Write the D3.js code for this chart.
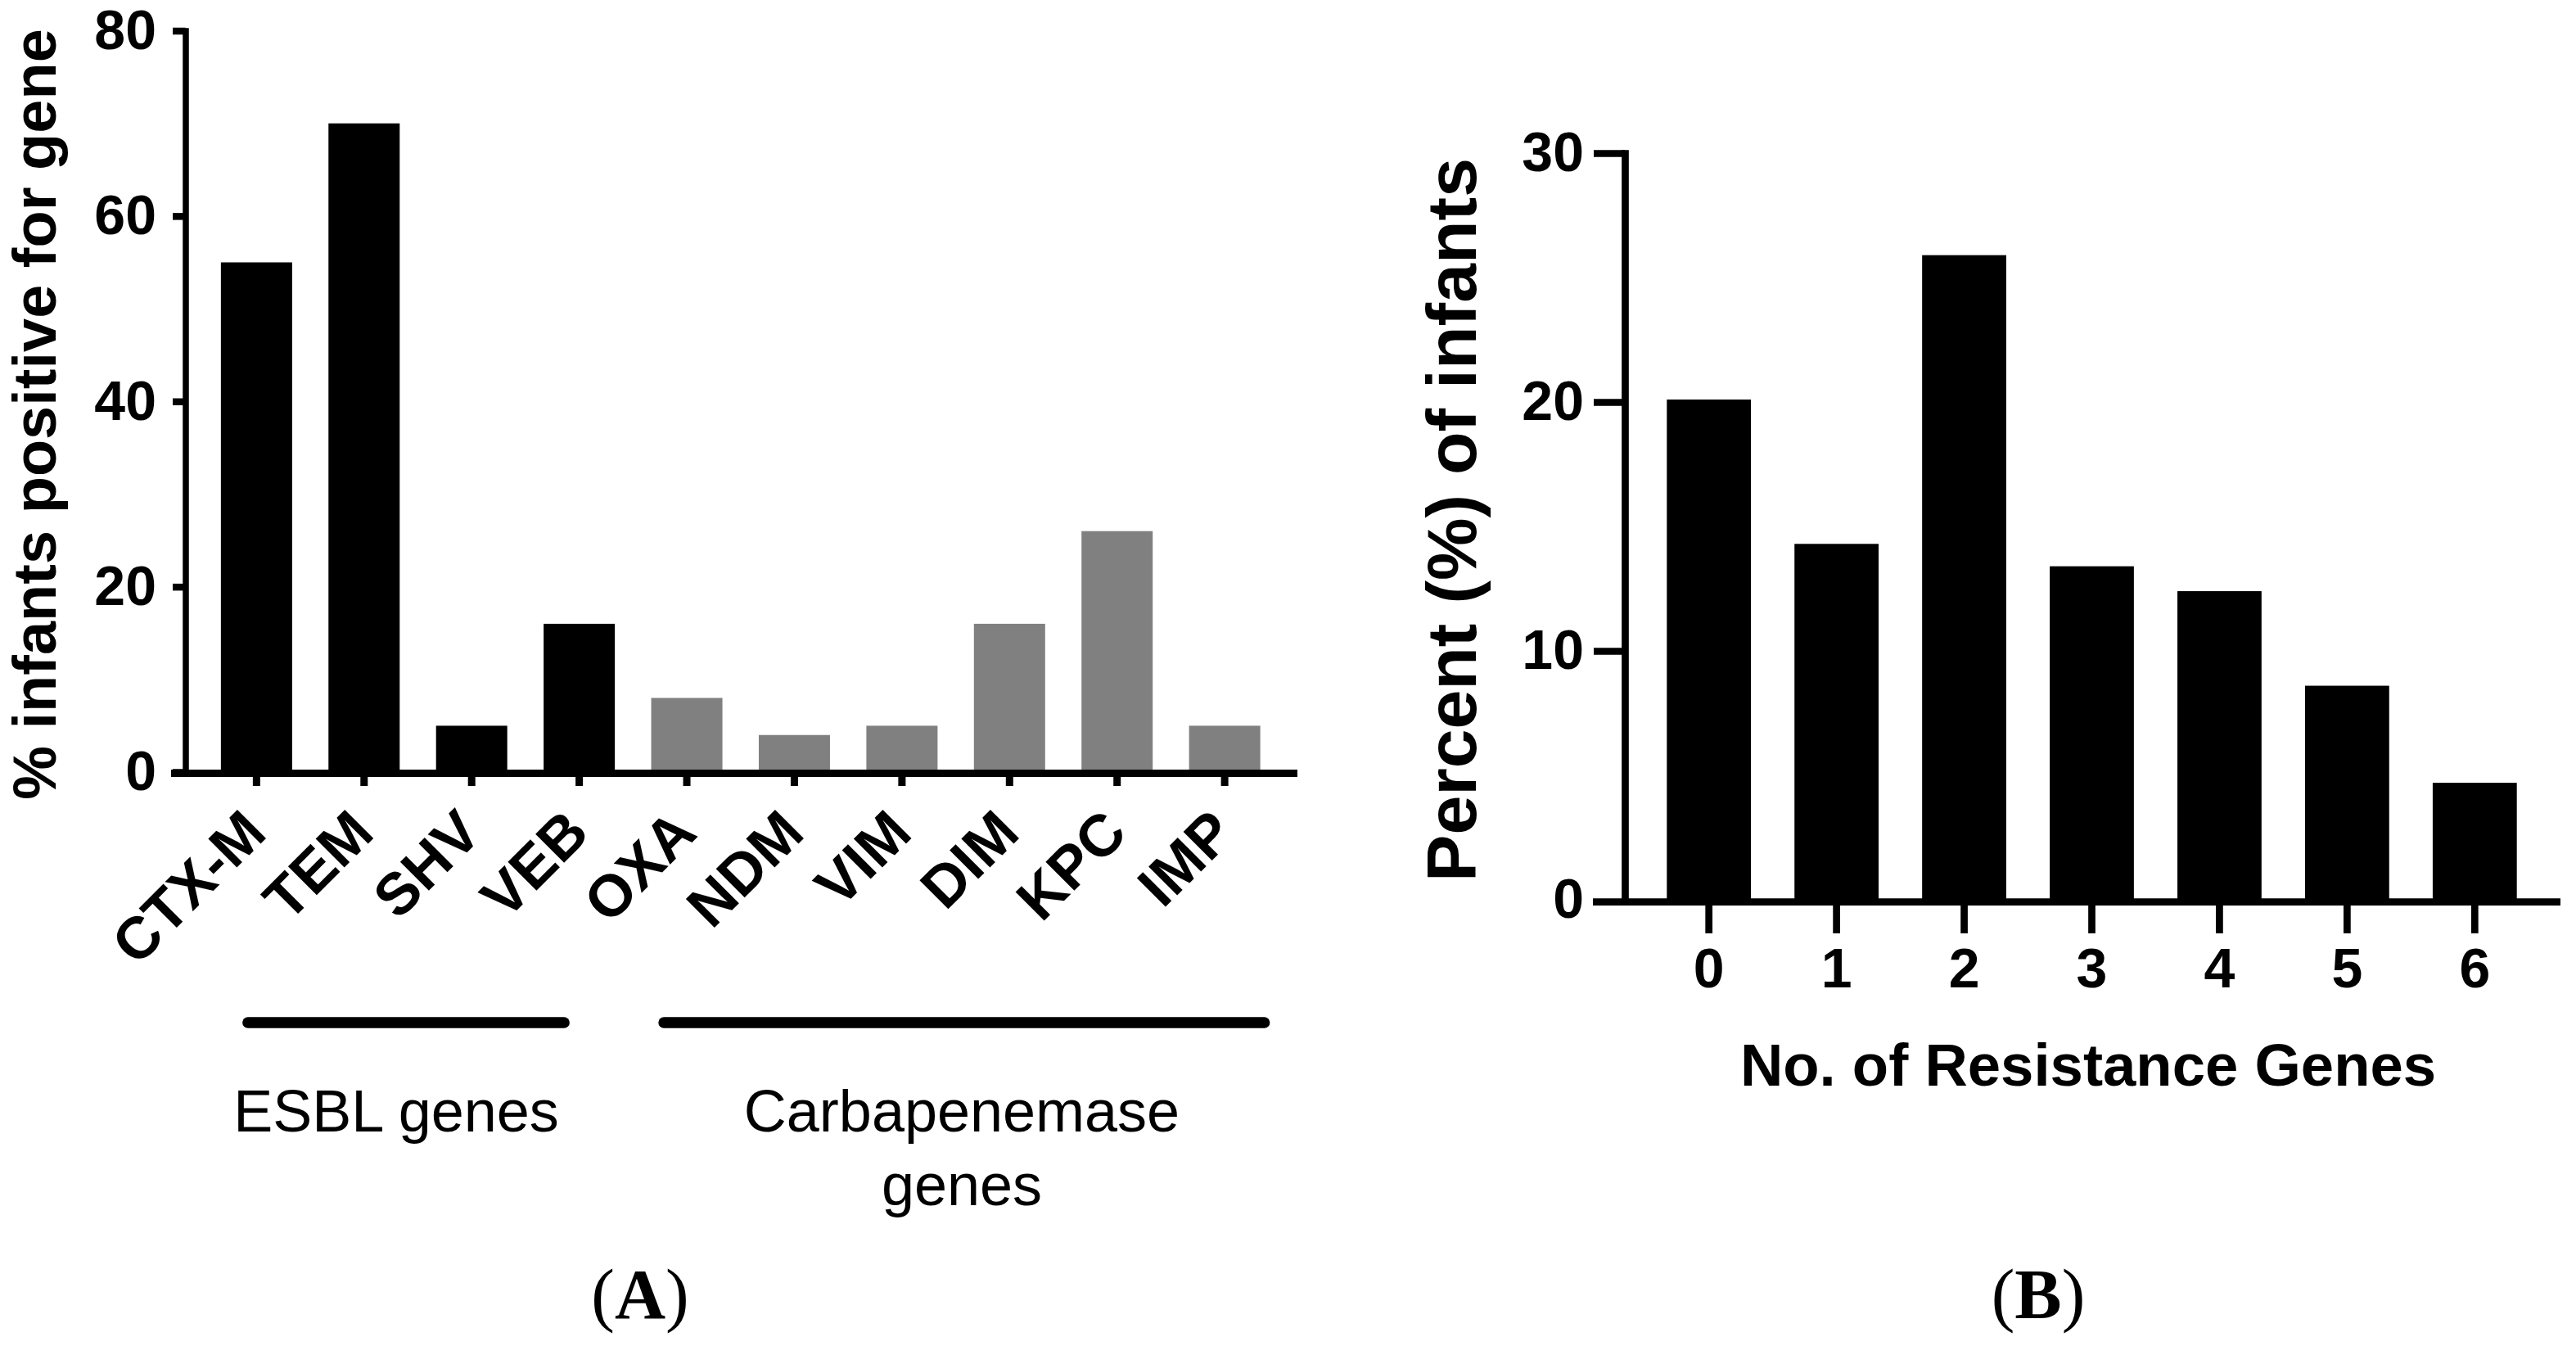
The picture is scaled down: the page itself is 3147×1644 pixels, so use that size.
<!DOCTYPE html>
<html>
<head>
<meta charset="utf-8">
<script src="https://cdn.jsdelivr.net/npm/d3@7"></script>
<style>
  html, body { margin: 0; padding: 0; background: #fff; }
  svg { display: block; }
  text { font-family: "Liberation Sans", Arial, Helvetica, sans-serif; fill: #000; }
</style>
</head>
<body>
<script>
// ---------- Data ----------
const genes = ["CTX-M", "TEM", "SHV", "VEB", "OXA", "NDM", "VIM", "DIM", "KPC", "IMP"];
const genePercent = [55, 70, 5, 16, 8, 4, 5, 16, 26, 5];
const geneGroup = ["ESBL", "ESBL", "ESBL", "ESBL", "Carb", "Carb", "Carb", "Carb", "Carb", "Carb"];
const geneTicks = [0, 20, 40, 60, 80];
const groupNames = ["ESBL", "Carb"];
const groupLabelLines = [["ESBL genes"], ["Carbapenemase", "genes"]];

const resistanceCounts = ["0", "1", "2", "3", "4", "5", "6"];
const infantPercent = [20.1, 14.3, 25.9, 13.4, 12.4, 8.6, 4.7];
const infantTicks = [0, 10, 20, 30];

const panelLabels = ["A", "B"];

// ---------- Setup ----------
const W = 3147, H = 1644;
const svg = d3.select("body").append("svg").attr("width", W).attr("height", H);
svg.append("rect").attr("width", W).attr("height", H).attr("fill", "#fff");

const groupColor = d3.scaleOrdinal().domain(groupNames).range(["#000000", "#808080"]);

// ================= Panel A =================
const aAxisX = 226.5, aAxisY = 944.5;
const xA = d3.scaleBand().domain(genes).range([aAxisX, 1583]).paddingInner(0.338).paddingOuter(0.33);
const yA = d3.scaleLinear().domain([0, 80]).range([943, 37.5]);
const gA = svg.append("g");

// bars
gA.selectAll("rect.bar").data(genes).join("rect")
  .attr("class", "bar")
  .attr("x", d => xA(d))
  .attr("width", xA.bandwidth())
  .attr("y", (d, i) => yA(genePercent[i]))
  .attr("height", (d, i) => yA(0) - yA(genePercent[i]))
  .attr("fill", (d, i) => groupColor(geneGroup[i]));

// y axis
const yAxisA = d3.axisLeft(yA).tickValues(geneTicks).tickSizeInner(15.5).tickSizeOuter(0).tickPadding(20);
const gyA = gA.append("g").attr("transform", `translate(${aAxisX},0)`).call(yAxisA);
gyA.select(".domain").attr("stroke", "#000").attr("stroke-width", 7.5).attr("stroke-linecap", "square");
gyA.selectAll(".tick line").attr("stroke", "#000").attr("stroke-width", 8.5);
gyA.selectAll(".tick text").attr("font-size", 68).attr("font-weight", "bold")
  .attr("font-family", "'Liberation Sans', Arial, sans-serif").attr("fill", "#000");

// x axis
const xAxisA = d3.axisBottom(xA).tickSizeInner(15.5).tickSizeOuter(0).tickFormat("");
const gxA = gA.append("g").attr("transform", `translate(0,${aAxisY})`).call(xAxisA);
gxA.select(".domain").remove();
gxA.selectAll(".tick line").attr("stroke", "#000").attr("stroke-width", 9);
gxA.append("line").attr("x1", aAxisX - 17.5).attr("x2", xA.range()[1] + 2)
  .attr("y1", 0).attr("y2", 0).attr("stroke", "#000").attr("stroke-width", 9);

// rotated gene labels
gA.selectAll("text.gene").data(genes).join("text")
  .attr("class", "gene")
  .attr("transform", d => `translate(${xA(d) + xA.bandwidth() / 2 + 15},${aAxisY + 76}) rotate(-45)`)
  .attr("text-anchor", "end")
  .attr("font-size", 72).attr("font-weight", "bold")
  .text(d => d);

// y title
gA.append("text")
  .attr("transform", `translate(68,506) rotate(-90)`)
  .attr("text-anchor", "middle")
  .attr("font-size", 74).attr("font-weight", "bold")
  .text("% infants positive for gene");

// group bars + labels
const groupSpans = groupNames.map(g => {
  const members = genes.filter((d, i) => geneGroup[i] === g);
  return { first: members[0], last: members[members.length - 1] };
});
const groupX = [
  [xA(groupSpans[0].first) + 33, xA(groupSpans[0].last) + xA.bandwidth() - 62],
  [xA(groupSpans[1].first) + 15.5, xA(groupSpans[1].last) + xA.bandwidth() + 5]
];
const groupTextX = [484, 1175];
groupNames.forEach((g, i) => {
  gA.append("line")
    .attr("x1", groupX[i][0]).attr("x2", groupX[i][1])
    .attr("y1", 1249).attr("y2", 1249)
    .attr("stroke", "#000").attr("stroke-width", 13.5).attr("stroke-linecap", "round");
  const t = gA.append("text").attr("text-anchor", "middle").attr("font-size", 72);
  groupLabelLines[i].forEach((line, j) => {
    t.append("tspan").attr("x", groupTextX[i]).attr("y", 1382 + j * 90).text(line);
  });
});

// ================= Panel B =================
const bAxisX = 1985, bAxisY = 1101.7;
const xB = d3.scaleBand().domain(resistanceCounts).range([bAxisX, 3126]).paddingInner(0.341).paddingOuter(0.329);
const yB = d3.scaleLinear().domain([0, 30]).range([1099, 187]);
const gB = svg.append("g");

gB.selectAll("rect.bar").data(resistanceCounts).join("rect")
  .attr("class", "bar")
  .attr("x", d => xB(d))
  .attr("width", xB.bandwidth())
  .attr("y", (d, i) => yB(infantPercent[i]))
  .attr("height", (d, i) => yB(0) - yB(infantPercent[i]))
  .attr("fill", "#000");

const yAxisB = d3.axisLeft(yB).tickValues(infantTicks).tickSizeInner(38).tickSizeOuter(0).tickPadding(12);
const gyB = gB.append("g").attr("transform", `translate(${bAxisX},0)`).call(yAxisB);
gyB.select(".domain").attr("stroke", "#000").attr("stroke-width", 8.7).attr("stroke-linecap", "square");
gyB.selectAll(".tick line").attr("stroke", "#000").attr("stroke-width", 8.7);
gyB.selectAll(".tick").filter(d => d === 0).select("line").remove();
gyB.selectAll(".tick text").attr("font-size", 68).attr("font-weight", "bold")
  .attr("font-family", "'Liberation Sans', Arial, sans-serif").attr("fill", "#000");

const xAxisB = d3.axisBottom(xB).tickSizeInner(38.3).tickSizeOuter(0).tickPadding(18);
const gxB = gB.append("g").attr("transform", `translate(0,${bAxisY})`).call(xAxisB);
gxB.select(".domain").remove();
gxB.selectAll(".tick line").attr("stroke", "#000").attr("stroke-width", 8.7);
gxB.selectAll(".tick text").attr("font-size", 68).attr("font-weight", "bold")
  .attr("font-family", "'Liberation Sans', Arial, sans-serif").attr("fill", "#000");
gxB.append("line").attr("x1", bAxisX - 39).attr("x2", xB.range()[1] + 2)
  .attr("y1", 0).attr("y2", 0).attr("stroke", "#000").attr("stroke-width", 8.7);

gB.append("text")
  .attr("x", 2551).attr("y", 1326)
  .attr("text-anchor", "middle")
  .attr("font-size", 72.5).attr("font-weight", "bold")
  .text("No. of Resistance Genes");

gB.append("text")
  .attr("transform", `translate(1803,635) rotate(-90)`)
  .attr("text-anchor", "middle")
  .attr("font-size", 86).attr("font-weight", "bold")
  .text("Percent (%) of infants");

// ================= Panel labels =================
const panelX = [782, 2490];
panelLabels.forEach((p, i) => {
  const t = svg.append("text").attr("x", panelX[i]).attr("y", 1610)
    .attr("text-anchor", "middle").attr("font-size", 86)
    .style("font-family", "'Liberation Serif', 'Times New Roman', serif");
  t.append("tspan").text("(");
  t.append("tspan").attr("font-weight", "bold").text(p);
  t.append("tspan").text(")");
});
</script>
</body>
</html>
